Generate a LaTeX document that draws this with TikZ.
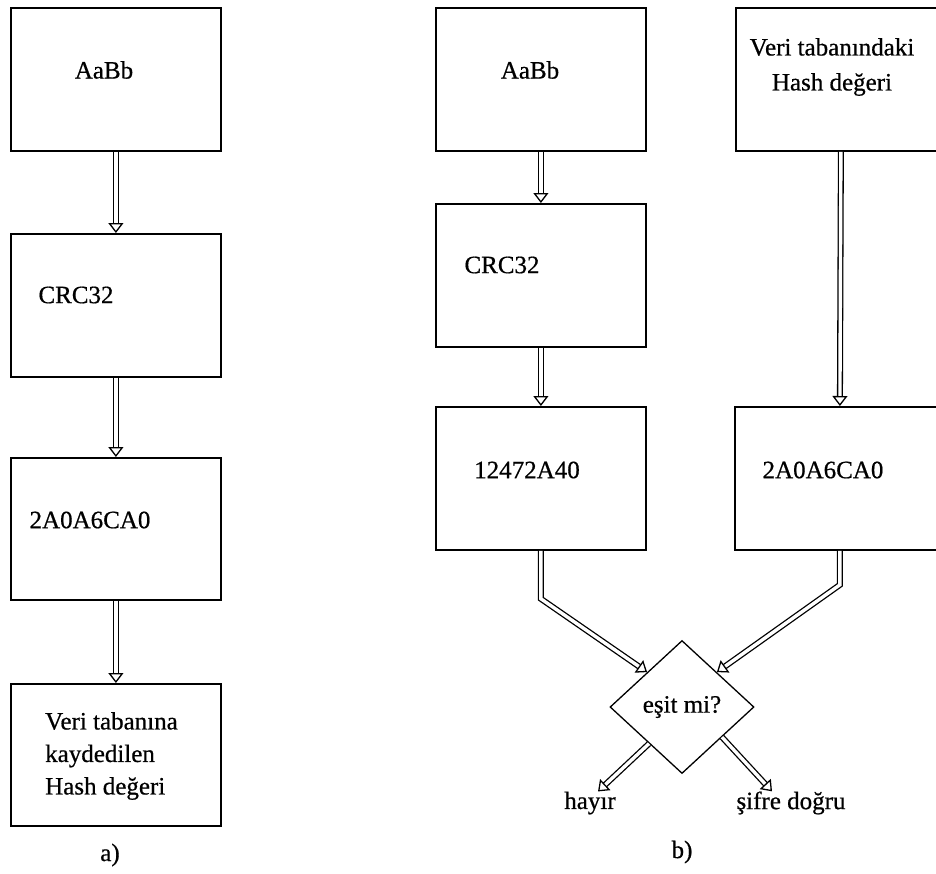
\documentclass[tikz,border=0pt]{standalone}
\usepackage{fontspec}
\setmainfont{Liberation Serif}[FakeBold=0.6]
\usetikzlibrary{arrows.meta,shapes.geometric}
\begin{document}
\begin{tikzpicture}[x=1pt,y=-1pt,
  box/.style={draw, line width=1.8pt, minimum width=210pt, minimum height=143pt,
              inner sep=0pt, anchor=north west},
  txt/.style={font=\fontsize{25}{32.5}\selectfont, inner sep=0pt},
  flow/.style={double, double distance=3.4pt, line width=1.3pt,
               -{Triangle[open, fill=white, length=10pt, width=15pt, line width=1.3pt]}},
]
\useasboundingbox[fill=white] (0,0) rectangle (936,873);

% a) single chain
\node[box] (la) at (10,7) {};
\node[box] (lb) at (10,233) {};
\node[box, minimum height=142pt] (lc) at (10,457) {};
\node[box, minimum height=142pt] (ld) at (10,683) {};

\node[txt] (tla) at (104,70) {AaBb};
\node[txt] (tlb) at (76,295) {CRC32};
\node[txt] (tlc) at (90,520) {2A0A6CA0};
\node[txt, align=left, anchor=west] (tld) at (45,756) {Veri tabanına\\kaydedilen\\Hash değeri};
\node[txt] (capa) at (110,855) {a)};

\draw[flow] (la.south) -- (lb.north);
\draw[flow] (lb.south) -- (lc.north);
\draw[flow] (lc.south) -- (ld.north);

% b) comparison
\node[box] (ra) at (435,7) {};
\node[box] (rb) at (435,203) {};
\node[box] (rc) at (435,406) {};
\node[box] (sa) at (735,7) {};
\node[box] (sc) at (734,406) {};

\node[txt] (tra) at (530,70) {AaBb};
\node[txt] (trb) at (502,265) {CRC32};
\node[txt] (trc) at (527,470) {12472A40};
\node[txt] (tsc) at (823,470) {2A0A6CA0};
\node[txt, align=center, font=\fontsize{25}{35}\selectfont] (tsa) at (832,67) {Veri tabanındaki\\Hash değeri};

\node[draw, diamond, line width=1.3pt, minimum width=144pt, minimum height=133pt,
      inner sep=0pt, font=\fontsize{25}{30}\selectfont] (eq) at (682,707) {eşit mi?};

\node[txt] (hayir) at (590,803) {hayır};
\node[txt] (sifre) at (791,803) {şifre doğru};
\node[txt] (capb) at (682,852) {b)};

\draw[flow] (ra.south) -- (rb.north);
\draw[flow] (rb.south) -- (rc.north);
\draw[flow] (sa.south) -- (sc.north);
\draw[flow] (rc.south) -- ++(0,48) -- (eq.135);
\draw[flow] (sc.south) -- ++(0,34) -- (eq.45);
\draw[flow] (eq.228) -- ([xshift=8pt]hayir.north);
\draw[flow] (eq.323) -- ([xshift=-19pt]sifre.north);
\end{tikzpicture}
\end{document}
